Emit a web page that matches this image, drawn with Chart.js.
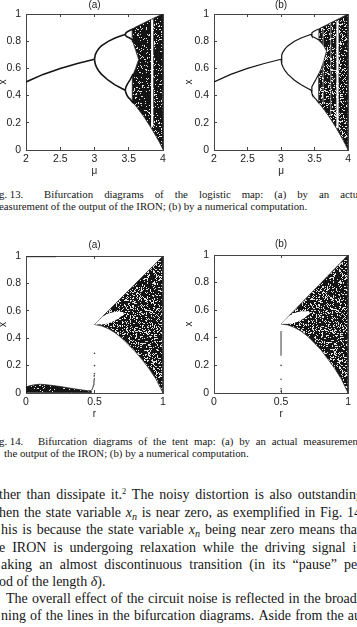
<!DOCTYPE html>
<html>
<head>
<meta charset="utf-8">
<script src="https://cdn.jsdelivr.net/npm/chart.js@4.4.1/dist/chart.umd.min.js"></script>
<style>
  html, body { margin: 0; padding: 0; background: #fff; }
  body { width: 357px; height: 627px; overflow: hidden; position: relative;
         font-family: "Liberation Serif", "Times New Roman", serif; color: #161616; }
  .box { position: absolute; }
  .box canvas { display: block; }
  .ln { position: absolute; white-space: nowrap; }
  .ln.j { display: flex; justify-content: space-between; }
  .cap { font-size: 10.8px; line-height: 12px; height: 12px; }
  .txt { font-size: 14px; line-height: 17px; height: 17px; }
  sup { font-size: 0.6em; vertical-align: 0.55em; line-height: 0; }
  sub { font-size: 0.72em; vertical-align: -0.3em; line-height: 0; }
</style>
</head>
<body>
<div class="box" style="left:-3px;top:-1px"><canvas id="logA" width="183" height="178"></canvas></div>
<div class="box" style="left:183px;top:-1px"><canvas id="logB" width="174" height="178"></canvas></div>
<div class="box" style="left:-3px;top:239px"><canvas id="tentA" width="183" height="181"></canvas></div>
<div class="box" style="left:183px;top:238px"><canvas id="tentB" width="174" height="182"></canvas></div>
<div id="page"></div>
<script>
(function () {
    "use strict";

    const yTicks = [0, 0.2, 0.4, 0.6, 0.8, 1];
    const muTicks = [2, 2.5, 3, 3.5, 4];
    const rTicks = [0, 0.5, 1];

    // logistic map: periodic branches (both panels agree here)
    const logPeriod1 = [[2, 0.5], [2.25, 0.556], [2.5, 0.6], [2.75, 0.636], [3, 0.667]];
    const logUpper2 = [[3, 0.667], [3.01, 0.699], [3.03, 0.722], [3.06, 0.744], [3.1, 0.765], [3.2, 0.799], [3.3, 0.824], [3.4, 0.842], [3.449, 0.85]];
    const logLower2 = [[3, 0.667], [3.01, 0.633], [3.03, 0.608], [3.06, 0.583], [3.1, 0.558], [3.2, 0.513], [3.3, 0.479], [3.4, 0.452], [3.449, 0.44]];
    const logUpper4a = [[3.449, 0.85], [3.46, 0.862], [3.48, 0.87], [3.5, 0.875], [3.52, 0.88], [3.565, 0.89]];
    const logUpper4b = [[3.449, 0.85], [3.46, 0.838], [3.48, 0.831], [3.5, 0.827], [3.52, 0.822], [3.565, 0.808]];
    const logLower4a = [[3.449, 0.44], [3.46, 0.465], [3.48, 0.484], [3.5, 0.501], [3.52, 0.518], [3.565, 0.56]];
    const logLower4b = [[3.449, 0.44], [3.46, 0.418], [3.48, 0.397], [3.5, 0.383], [3.52, 0.374], [3.565, 0.345]];

    // chaotic region outlines (upper edge, right edge, lower edge, gap between bands)
    const logAChaos = [[3.55, 0.889], [3.6, 0.904], [3.7, 0.929], [3.8, 0.954], [3.9, 0.978], [4, 1], [4, 0.005],
        [3.95, 0.055], [3.9, 0.1], [3.85, 0.143], [3.8, 0.183], [3.75, 0.222], [3.7, 0.259], [3.65, 0.293], [3.6, 0.326], [3.55, 0.352],
        [3.552, 0.54], [3.6, 0.6], [3.645, 0.665], [3.6, 0.735], [3.56, 0.795], [3.55, 0.889]];
    const logBChaos = [[3.565, 0.891], [3.6, 0.9], [3.7, 0.925], [3.8, 0.95], [3.9, 0.975], [4, 1], [4, 0],
        [3.95, 0.049], [3.9, 0.095], [3.85, 0.139], [3.8, 0.18], [3.75, 0.22], [3.7, 0.257], [3.65, 0.291], [3.6, 0.324], [3.565, 0.345],
        [3.562, 0.56], [3.6, 0.6], [3.65, 0.678], [3.679, 0.728], [3.65, 0.754], [3.6, 0.788], [3.565, 0.805], [3.565, 0.891]];
    // periodic windows: [mu, low, high]
    const logAWindows = [[3.842, 0.17, 0.96]];
    const logBWindows = [[3.628, 0.34, 0.9], [3.741, 0.25, 0.93], [3.842, 0.16, 0.95]];

    // tent map
    const tentAChaos = [[0.5, 0.5], [1, 1], [1, 0], [0.95, 0.1], [0.9, 0.175], [0.85, 0.24], [0.8, 0.3], [0.75, 0.35],
        [0.7, 0.4], [0.65, 0.44], [0.6, 0.47], [0.55, 0.49], [0.5, 0.5]];
    const tentBChaos = [[0.5, 0.5], [1, 1], [1, 0], [0.95, 0.1], [0.9, 0.178], [0.85, 0.245], [0.8, 0.31], [0.75, 0.36],
        [0.7, 0.41], [0.65, 0.448], [0.6, 0.475], [0.55, 0.493], [0.5, 0.5]];
    const tentEye = [[0.5, 0.5], [0.53, 0.53], [0.56, 0.558], [0.6, 0.58], [0.65, 0.593], [0.69, 0.593], [0.715, 0.585],
        [0.71, 0.572], [0.67, 0.54], [0.62, 0.514], [0.57, 0.502], [0.5, 0.5]];
    const tentANoise = [[0, 0.005], [0, 0.045], [0.05, 0.058], [0.1, 0.064], [0.15, 0.06], [0.2, 0.054], [0.25, 0.047],
        [0.3, 0.039], [0.35, 0.031], [0.4, 0.023], [0.45, 0.017], [0.475, 0.014], [0.475, 0.003], [0.3, 0.003], [0, 0.005]];
    const tentARise = [[0.455, 0.012], [0.47, 0.016], [0.48, 0.022], [0.487, 0.035], [0.492, 0.055], [0.496, 0.08], [0.499, 0.11]];
    const tentADots = [[0.5, 0.14], [0.5, 0.29], [0.498, 0.125], [0.5, 0.2], [0.5, 1]];
    const tentATop = [[0.005, 0.996], [0.22, 0.996]];
    const tentBStem = [[0.5, 0.27], [0.5, 0.45]];
    const tentBDots = [[0.5, 0.1], [0.5, 0.03], [0.5, 0.012], [0.5, 0.2], [0.5, 1]];

    const ink = '#141414';

    // speckled texture for the dense clouds of iterates (fixed hash, no randomness)
    function speckle(share, base) {
        const n = 97;
        const c = document.createElement('canvas');
        c.width = c.height = n;
        const g = c.getContext('2d');
        g.fillStyle = base;
        g.fillRect(0, 0, n, n);
        g.fillStyle = '#e4e4e4';
        for (let y = 0; y < n; y++) {
            for (let x = 0; x < n; x++) {
                let h = (Math.imul(x + 11, 0x9e3779b1) + Math.imul(y + 3, 0x85ebca77)) | 0;
                h ^= h >>> 15;
                h = Math.imul(h, 0x2c1b3c6d);
                h ^= h >>> 12;
                h = Math.imul(h, 0x297a2d39);
                h ^= h >>> 15;
                if (((h >>> 8) & 255) < share * 256) g.fillRect(x, y, 1, 1);
            }
        }
        return g.createPattern(c, 'repeat');
    }

    const xy = a => a.map(p => ({ x: p[0], y: p[1] }));
    const curve = (a, w, c) => ({ data: xy(a), showLine: true, pointRadius: 0, borderWidth: w, borderColor: c, fill: false });
    const area = (a, bg, edge) => ({ data: xy(a), showLine: true, pointRadius: 0, borderWidth: edge ? 0.8 : 1,
        borderColor: edge || 'transparent', backgroundColor: bg, fill: 'shape' });
    const dots = (a, r, c) => ({ data: xy(a), showLine: false, pointRadius: r, pointBorderWidth: 0, pointBackgroundColor: c });
    const stripe = (w, lw, c) => curve([[w[0], w[1]], [w[0], w[2]]], lw, c);

    function axis(pos, ticks, lo, hi, size, title, labels) {
        const horiz = pos === 'top' || pos === 'bottom';
        return {
            type: 'linear', position: pos, min: lo, max: hi, z: 1,
            afterBuildTicks: function (s) { s.ticks = ticks.map(v => ({ value: v })); },
            afterFit: function (s) { if (horiz) { s.height = size; } else { s.width = size; } },
            ticks: { display: labels, color: '#222', font: { size: 10.5 }, padding: horiz ? 6 : 8,
                maxRotation: 0, autoSkip: false, callback: v => String(v) },
            grid: { drawOnChartArea: false, drawTicks: true, tickLength: -3, color: '#444', lineWidth: 1 },
            border: { display: true, color: '#444', width: 1 },
            title: { display: !!title, text: title, color: '#222', font: { size: 10 }, padding: 0 }
        };
    }

    function plot(id, xTicks, xTitle, panel, layers, box) {
        new Chart(document.getElementById(id), {
            type: 'scatter',
            // layers are listed bottom first; Chart.js paints dataset 0 last
            data: { datasets: layers.slice().reverse() },
            options: {
                responsive: false, animation: false, events: [],
                layout: { padding: 0 },
                plugins: { legend: { display: false }, tooltip: { enabled: false } },
                scales: {
                    x: axis('bottom', xTicks, xTicks[0], xTicks[xTicks.length - 1], box[3], xTitle, true),
                    x2: axis('top', xTicks, xTicks[0], xTicks[xTicks.length - 1], box[0], panel, false),
                    y: axis('left', yTicks, 0, 1, box[2], 'x', true),
                    y2: axis('right', yTicks, 0, 1, box[1], '', false)
                }
            }
        });
    }

    function logLayers(chaos, windows, fillPat, lw) {
        const out = [area(chaos, fillPat, '#222')];
        windows.forEach(w => out.push(stripe(w, w[0] > 3.8 ? 2.2 : 1, w[0] > 3.8 ? '#fff' : 'rgba(255,255,255,0.55)')));
        [logPeriod1, logUpper2, logLower2, logUpper4a, logUpper4b, logLower4a, logLower4b]
            .forEach(b => out.push(curve(b, lw, ink)));
        return out;
    }

    plot('logA', muTicks, 'μ', '(a)', logLayers(logAChaos, logAWindows, speckle(0.12, ink), 1.6), [15, 17, 29, 27]);
    plot('logB', muTicks, 'μ', '(b)', logLayers(logBChaos, logBWindows, speckle(0.2, ink), 1.2), [15, 5, 31, 27]);

    plot('tentA', rTicks, 'r', '(a)', [
        area(tentAChaos, speckle(0.24, ink), '#333'),
        area(tentEye, '#ffffff', null),
        area(tentANoise, speckle(0.08, ink), '#222'),
        curve(tentARise, 1, '#333'),
        curve(tentATop, 1.3, '#333'),
        dots(tentADots, 0.8, '#333')
    ], [17, 17, 29, 27]);

    plot('tentB', rTicks, 'r', '(b)', [
        area(tentBChaos, speckle(0.24, ink), '#333'),
        area(tentEye, '#ffffff', null),
        curve(tentBStem, 1.3, '#666'),
        dots(tentBDots, 0.8, '#444')
    ], [17, 5, 31, 27]);

    // page text around the figures
    const lines = [
        { cls: 'cap', y: 194, x0: -1, x1: 22, j: false, html: 'g. 13.' },
        { cls: 'cap', y: 194, x0: 44, x1: 366, j: true, html: 'Bifurcation diagrams of the logistic map: (a) by an actual' },
        { cls: 'cap', y: 206, x0: -1, x1: 357, j: false, html: 'easurement of the output of the IRON; (b) by a numerical computation.' },
        { cls: 'cap', y: 441, x0: -1, x1: 22, j: false, html: 'g. 14.' },
        { cls: 'cap', y: 441, x0: 38, x1: 361, j: true, html: 'Bifurcation diagrams of the tent map: (a) by an actual measurement' },
        { cls: 'cap', y: 453, x0: 4, x1: 357, j: false, html: 'the output of the IRON; (b) by a numerical computation.' },
        { cls: 'txt', y: 494, x0: -1, x1: 363, j: true, html: 'ther than dissipate it.<sup>2</sup> The noisy distortion is also outstanding' },
        { cls: 'txt', y: 512, x0: -1, x1: 361, j: true, html: 'hen the state variable <i>x</i><sub><i>n</i></sub> is near zero, as exemplified in Fig. 14' },
        { cls: 'txt', y: 529, x0: 1, x1: 361, j: true, html: 'his is because the state variable <i>x</i><sub><i>n</i></sub> being near zero means that' },
        { cls: 'txt', y: 547, x0: -1, x1: 362, j: true, html: 'e IRON is undergoing relaxation while the driving signal is' },
        { cls: 'txt', y: 564, x0: 1, x1: 362, j: true, html: 'aking an almost discontinuous transition (in its “pause” per' },
        { cls: 'txt', y: 581, x0: -1, x1: 357, j: false, html: 'od of the length <i>δ</i>).' },
        { cls: 'txt', y: 598, x0: 6, x1: 363, j: true, html: 'The overall effect of the circuit noise is reflected in the broade' },
        { cls: 'txt', y: 615, x0: 1, x1: 361, j: true, html: 'ning of the lines in the bifurcation diagrams. Aside from the au' }
    ];
    const page = document.getElementById('page');
    lines.forEach(function (l) {
        const d = document.createElement('div');
        d.className = 'ln ' + l.cls + (l.j ? ' j' : '');
        const lh = l.cls === 'cap' ? 12 : 17;
        d.style.left = l.x0 + 'px';
        d.style.top = (l.y - lh / 2) + 'px';
        d.style.width = (l.x1 - l.x0) + 'px';
        d.innerHTML = l.j ? l.html.split(' ').map(w => '<span>' + w + '</span>').join('') : l.html;
        page.appendChild(d);
    });
})();
</script>
</body>
</html>
